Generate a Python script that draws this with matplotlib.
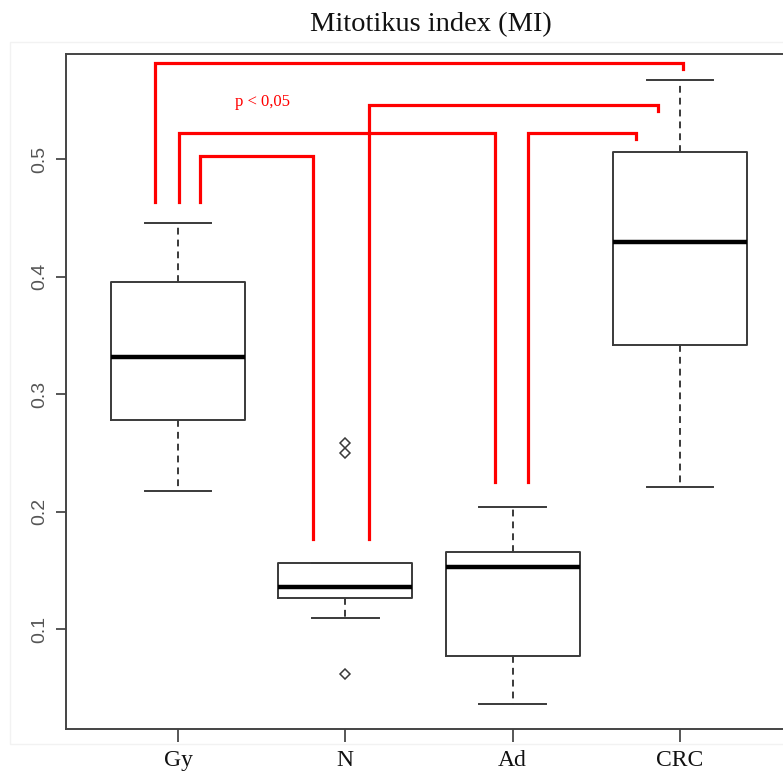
import matplotlib
matplotlib.use("Agg")
import matplotlib.pyplot as plt
from matplotlib.patches import Rectangle

# -----------------------------
# DATA (box summaries per group)
# -----------------------------
groups = ["Gy", "N", "Ad", "CRC"]
whislo = [0.2177, 0.1097, 0.0366, 0.2211]
q1 = [0.2781, 0.1267, 0.0774, 0.3418]
med = [0.3316, 0.1361, 0.1530, 0.4294]
q3 = [0.3954, 0.1565, 0.1658, 0.5060]
whishi = [0.4456, 0.1565, 0.2040, 0.5672]
fliers = [[], [0.2585, 0.2500, 0.0621], [], []]

# significance brackets: left x, right x, top y, left leg end, right leg end
br_left = [0.8625, 1.006, 1.1315, 2.1417, 3.092]
br_right = [4.0185, 2.895, 1.807, 3.869, 3.738]
br_top = [0.5816, 0.5221, 0.5026, 0.5459, 0.5221]
br_left_end = [0.4634, 0.4634, 0.4634, 0.1769, 0.2253]
br_right_end = [0.5765, 0.2253, 0.1769, 0.5408, 0.5170]

yticks = [0.1, 0.2, 0.3, 0.4, 0.5]

# -----------------------------
# FIGURE
# -----------------------------
fig = plt.figure(figsize=(7.83, 7.72), dpi=100)
fig.patch.set_facecolor("white")

# faint frame around the plotting region
fig.patches.append(Rectangle((10 / 783, 28 / 772), 1.0, 702 / 772,
                             transform=fig.transFigure, fill=False,
                             edgecolor="#f2f2f2", lw=1.0, zorder=0))

ax = fig.add_axes([66 / 783, 43 / 772, 726 / 783, 675 / 772])

stats = []
for i, g in enumerate(groups):
    stats.append({
        "label": g,
        "whislo": whislo[i],
        "q1": q1[i],
        "med": med[i],
        "q3": q3[i],
        "whishi": whishi[i],
        "fliers": fliers[i],
    })

line_col = "#3a3a3a"
ax.bxp(
    stats,
    positions=[1, 2, 3, 4],
    widths=0.8,
    capwidths=0.4,
    showfliers=True,
    boxprops=dict(color=line_col, lw=1.4),
    medianprops=dict(color="black", lw=3.2, solid_capstyle="butt"),
    whiskerprops=dict(color=line_col, lw=1.4, linestyle=(0, (3.5, 2.6))),
    capprops=dict(color=line_col, lw=1.4),
    flierprops=dict(marker="D", markersize=5, markerfacecolor="none",
                    markeredgecolor=line_col, markeredgewidth=1.1),
)

# red significance brackets
for xl, xr, yt, yle, yre in zip(br_left, br_right, br_top, br_left_end, br_right_end):
    ax.plot([xl, xl, xr, xr], [yle, yt, yt, yre], color="#ff0000", lw=2.3,
            solid_joinstyle="miter", clip_on=False, zorder=5)

ax.text(1.502, 0.5485, "p < 0,05", color="#ff0000", fontsize=12,
        family="Liberation Serif", ha="center", va="center")

ax.set_xlim(0.3306, 4.6694)
ax.set_ylim(0.0153, 0.5893)

ax.set_xticks([1, 2, 3, 4])
ax.set_xticklabels(groups, family="Liberation Serif", fontsize=17, color="#111111")
ax.set_yticks(yticks)
ax.set_yticklabels([f"{v:.1f}" for v in yticks], rotation=90, va="center",
                   family="Liberation Sans", fontsize=14, color="#555555")

ax.tick_params(axis="x", length=9, width=1.2, color=line_col, pad=6)
ax.tick_params(axis="y", length=7, width=1.2, color=line_col, pad=6)

for s in ax.spines.values():
    s.set_color("#444444")
    s.set_linewidth(1.4)

fig.text(431 / 783, 1 - 25 / 772, "Mitotikus index (MI)", ha="center", va="center",
         family="Liberation Serif", fontsize=20.5, color="#111111")

fig.savefig("out.png", dpi=100)
